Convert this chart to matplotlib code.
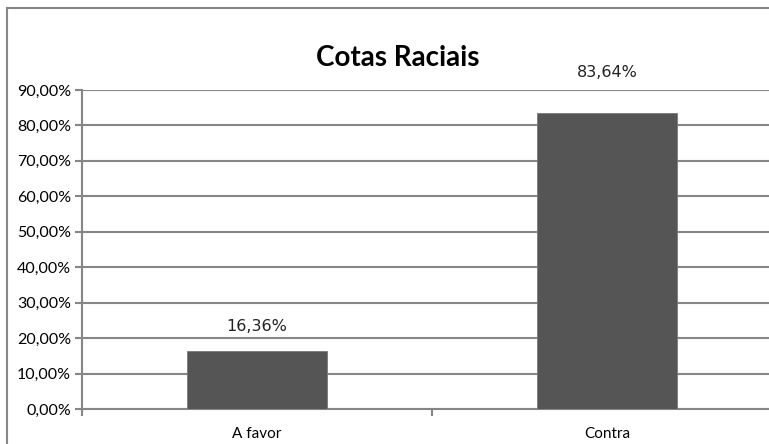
import matplotlib
matplotlib.use('Agg')
import matplotlib.pyplot as plt
from matplotlib.patches import Rectangle

# Data
categories = ["A favor", "Contra"]
values = [16.36, 83.64]
value_labels = ["16,36%", "83,64%"]
y_ticks = [0, 10, 20, 30, 40, 50, 60, 70, 80, 90]
y_tick_labels = ["0,00%", "10,00%", "20,00%", "30,00%", "40,00%", "50,00%",
                 "60,00%", "70,00%", "80,00%", "90,00%"]
title = "Cotas Raciais"

GRID = "#868686"
BAR = "#555555"
# label distance above bar top, in points (Excel pushes the tall one higher)
label_offsets = [18, 29]

fig = plt.figure(figsize=(7.69, 4.44), dpi=100)
W, H = 769, 444

# outer chart border (right/bottom edges fall outside the image)
fig.patches.append(Rectangle((7 / W, -0.05), 1.1, (444 - 8) / H + 0.05,
                             transform=fig.transFigure, fill=False,
                             edgecolor=GRID, linewidth=1.5))

ax = fig.add_axes([82 / W, (H - 409) / H, 700 / W, 319 / H])
x = list(range(len(categories)))
ax.bar(x, values, width=0.4, color=BAR, edgecolor="#7a7a7a", linewidth=0.6, zorder=3)

ax.set_xlim(-0.5, 1.5)
ax.set_ylim(0, 90)
ax.set_yticks(y_ticks)
ax.set_yticklabels(y_tick_labels, family="Lato", fontsize=11.5)
ax.yaxis.grid(True, color=GRID, linewidth=1.5, zorder=0)

ax.set_xticks([-0.5, 0.5, 1.5])
ax.set_xticklabels([])
ax.set_xticks(x, minor=True)
ax.set_xticklabels(categories, minor=True, family="Lato", fontsize=11)
ax.tick_params(axis="x", which="major", length=5, color=GRID, width=1.5)
ax.tick_params(axis="x", which="minor", length=0, pad=13)
ax.tick_params(axis="y", length=5, color=GRID, width=1.5, pad=3)

for s in ["top", "right"]:
    ax.spines[s].set_visible(False)
for s in ["left", "bottom"]:
    ax.spines[s].set_color(GRID)
    ax.spines[s].set_linewidth(1.5)

for xi, v, lab, off in zip(x, values, value_labels, label_offsets):
    ax.annotate(lab, (xi, v), xytext=(0, off), textcoords="offset points",
                ha="center", va="center", fontsize=11.5,
                family="DejaVu Sans", color="#222222", annotation_clip=False)

fig.text(398 / W, 1 - 58 / H, title, ha="center", va="center",
         fontsize=20, fontweight="bold", family="Lato")

fig.savefig("out.png", dpi=100)
